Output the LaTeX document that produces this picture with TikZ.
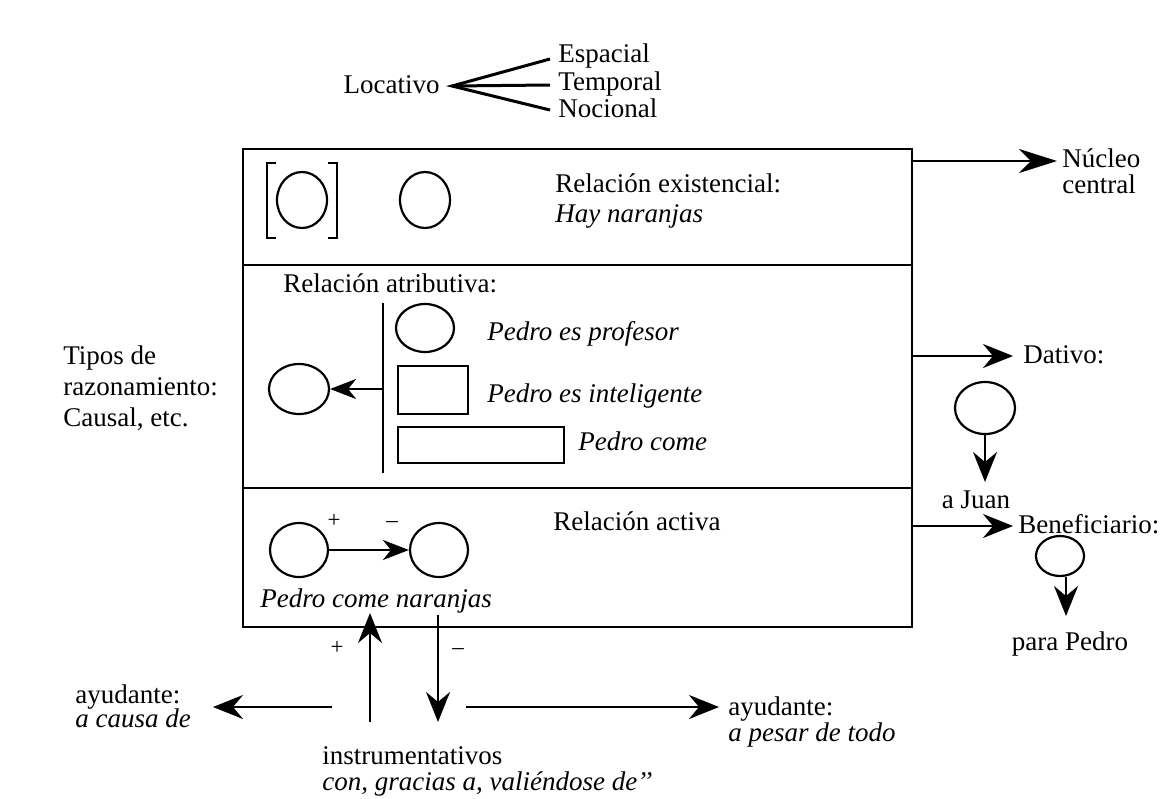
\documentclass[tikz,border=0pt]{standalone}
\usepackage{fontspec}
\setmainfont{Liberation Serif}
\usetikzlibrary{shapes.geometric,arrows.meta}
\begin{document}
\begin{tikzpicture}[x=0.5pt,y=-0.5pt,
  font=\fontsize{13.5}{14}\selectfont,
  every node/.style={inner sep=0pt},
  txt/.style={anchor=base west},
  itx/.style={anchor=base west,font=\fontsize{13.5}{14}\selectfont\itshape},
  sgn/.style={anchor=base,font=\fontsize{11.5}{12}\selectfont},
  blob/.style={ellipse,draw,line width=1.1pt,inner sep=0pt},
  frame/.style={draw,line width=1.2pt},
  fork/.style={line width=1.5pt},
  arr/.style={line width=1.3pt,-{Stealth[length=15pt,width=12pt,inset=5pt]}},
  bigarr/.style={line width=1.3pt,-{Stealth[length=19pt,width=12pt,inset=6pt]}},
  sarr/.style={line width=1.2pt,-{Stealth[length=13pt,width=10pt,inset=4pt]}}]
\useasboundingbox (0,0) rectangle (1162,798);
\fill[white] (0,0) rectangle (1162,798);

% ---- Locativo fork
\node[anchor=base east] (loc) at (440,93) {Locativo};
\coordinate (fk) at (452,86);
\node[txt] (esp) at (558,62) {Espacial};
\node[txt] (tem) at (558,90) {Temporal};
\node[txt] (noc) at (558,117) {Nocional};
\coordinate (e1) at (550,59);
\coordinate (e2) at (550,85);
\coordinate (e3) at (550,110);
\draw[fork] (e1) -- (fk) -- (e3);
\draw[fork] (fk) -- (e2);

% ---- main frame
\coordinate (tl) at (243,149);
\coordinate (br) at (912,627);
\draw[frame] (tl) rectangle (br);
\draw[frame] (243,265) -- (912,265);
\draw[frame] (243,488) -- (912,488);

% ---- existential
\node[blob,minimum width=25pt,minimum height=28pt] (ex1) at (302,200) {};
\node[blob,minimum width=25pt,minimum height=28pt] (ex2) at (425,200) {};
\draw[line width=1.3pt] (276,163) -- (267,163) -- (267,238) -- (276,238);
\draw[line width=1.3pt] (328,163) -- (337,163) -- (337,238) -- (328,238);
\node[txt] (rex) at (555,192) {Relación existencial:};
\node[itx] (hay) at (555,222) {Hay naranjas};

% ---- attributive
\node[txt] (rat) at (283,292) {Relación atributiva:};
\coordinate (vt) at (383,303);
\coordinate (vb) at (383,473);
\draw[line width=1.3pt] (vt) -- (vb);
\node[blob,minimum width=29pt,minimum height=24pt] (at1) at (425,328) {};
\node[draw,line width=1.1pt,minimum width=35pt,minimum height=24pt,anchor=north west] (at2) at (397,365) {};
\node[draw,line width=1.1pt,minimum width=83pt,minimum height=18pt,anchor=north west] (at3) at (397,426) {};
\node[itx] (pp) at (487,340) {Pedro es profesor};
\node[itx] (pi) at (487,402) {Pedro es inteligente};
\node[itx] (pc) at (578,450) {Pedro come};
\node[blob,minimum width=30pt,minimum height=25pt] (lc) at (299,389) {};
\coordinate (va) at (383,389);
\draw[sarr] (va) -- (lc.east);
\node[txt] (tp1) at (63,364) {Tipos de};
\node[txt] (tp2) at (63,395) {razonamiento:};
\node[txt] (tp3) at (63,426) {Causal, etc.};

% ---- active
\node[blob,minimum width=29pt,minimum height=27pt] (ac1) at (299,550) {};
\node[blob,minimum width=29pt,minimum height=27pt] (ac2) at (439,550) {};
\draw[sarr] (ac1.east) -- (ac2.west);
\node[sgn] (pl1) at (334,527) {+};
\node[sgn] (mi1) at (392,527) {\textendash};
\node[txt] (rac) at (553,530) {Relación activa};
\node[itx] (pcn) at (260,607) {Pedro come naranjas};

% ---- right side
\coordinate (r1) at (912,161);
\coordinate (r2) at (912,356);
\coordinate (r3) at (912,526);
\node[txt] (nu1) at (1062,167) {Núcleo};
\node[txt] (nu2) at (1062,193) {central};
\coordinate (nut) at (1057,161);
\draw[bigarr] (r1) -- (nut);
\node[txt] (dat) at (1023,363) {Dativo:};
\coordinate (dtt) at (1013,356);
\draw[arr] (r2) -- (dtt);
\node[blob,minimum width=30pt,minimum height=26pt] (dc) at (985,408) {};
\coordinate (djt) at (985,482);
\draw[arr] (dc.south) -- (djt);
\node[anchor=base] (aju) at (976,508) {a Juan};
\node[txt] (ben) at (1018,533) {Beneficiario:};
\coordinate (bnt) at (1013,526);
\draw[arr] (r3) -- (bnt);
\node[blob,minimum width=24pt,minimum height=20pt] (bc) at (1060,556) {};
\coordinate (bct) at (1066,616);
\draw[arr] (bc.south -| bct) -- (bct);
\node[anchor=base] (ppe) at (1070,650) {para Pedro};

% ---- bottom
\coordinate (ub) at (370,722);
\coordinate (ut) at (370,613);
\draw[arr] (ub) -- (ut);
\coordinate (dt) at (438,615);
\coordinate (db) at (438,722);
\draw[arr] (dt) -- (db);
\node[sgn] (pl2) at (337,654) {+};
\node[sgn] (mi2) at (458,654) {\textendash};
\coordinate (ls) at (332,707);
\coordinate (le) at (213,707);
\draw[arr] (ls) -- (le);
\node[txt] (ay1) at (75,703) {ayudante:};
\node[itx] (ay1b) at (75,727) {a causa de};
\coordinate (rs) at (466,707);
\coordinate (re) at (719,707);
\draw[arr] (rs) -- (re);
\node[txt] (ay2) at (728,715) {ayudante:};
\node[itx] (ay2b) at (728,741) {a pesar de todo};
\node[txt] (ins) at (322,764) {instrumentativos};
\node[itx] (insb) at (322,790) {con, gracias a, valiéndose de{'}{'}};
\end{tikzpicture}
\end{document}
